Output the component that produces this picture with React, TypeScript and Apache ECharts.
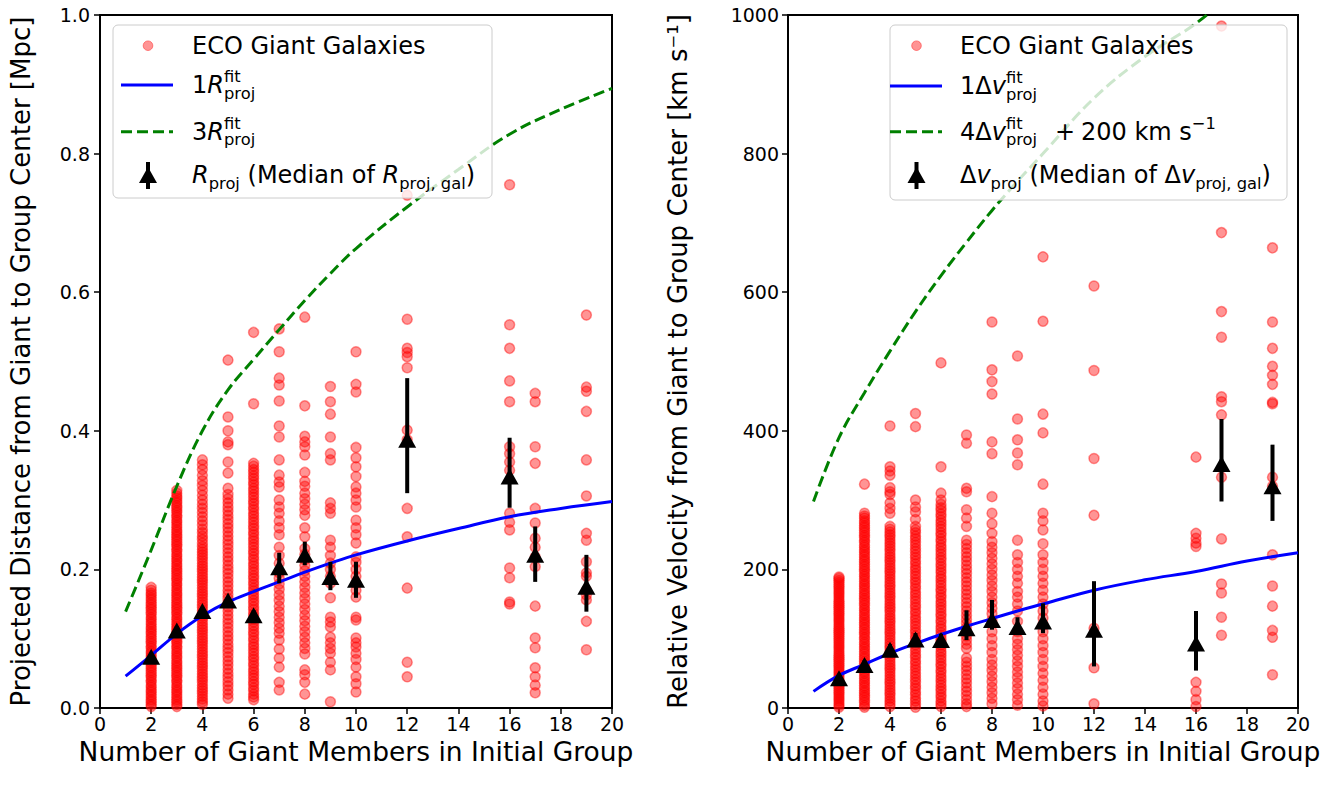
import React, { useEffect, useRef } from 'react';
import * as echarts from 'echarts';

const FONT = 'DejaVu Sans';

// ---------- Left panel: projected distance [Mpc] ----------
const L2 = [0.002,0.005,0.009,0.012,0.016,0.019,0.023,0.026,0.03,0.033,0.037,0.04,0.044,0.047,0.051,0.054,0.058,0.061,0.065,0.068,0.072,0.075,0.079,0.082,0.086,0.089,0.093,0.096,0.1,0.103,0.107,0.11,0.114,0.117,0.121,0.124,0.128,0.131,0.135,0.138,0.142,0.145,0.149,0.152,0.156,0.159,0.163,0.166,0.17,0.174];
const L3 = [0.002,0.005,0.009,0.012,0.016,0.019,0.023,0.026,0.03,0.033,0.037,0.04,0.044,0.047,0.051,0.054,0.058,0.061,0.065,0.068,0.072,0.075,0.079,0.082,0.086,0.089,0.093,0.096,0.1,0.103,0.107,0.11,0.114,0.117,0.121,0.124,0.128,0.131,0.135,0.138,0.142,0.145,0.149,0.152,0.156,0.159,0.163,0.166,0.17,0.173,0.177,0.18,0.184,0.187,0.191,0.194,0.198,0.201,0.205,0.208,0.212,0.215,0.219,0.222,0.226,0.229,0.233,0.236,0.24,0.243,0.247,0.25,0.254,0.257,0.261,0.264,0.268,0.271,0.275,0.278,0.282,0.285,0.289,0.292,0.296,0.299,0.303,0.306,0.31,0.314];
const L4 = [0.005,0.009,0.013,0.017,0.021,0.025,0.029,0.033,0.037,0.041,0.045,0.049,0.053,0.057,0.061,0.065,0.069,0.073,0.077,0.081,0.085,0.089,0.093,0.097,0.101,0.105,0.109,0.113,0.117,0.121,0.125,0.129,0.133,0.137,0.141,0.145,0.149,0.153,0.157,0.161,0.165,0.169,0.173,0.177,0.181,0.185,0.189,0.193,0.197,0.201,0.205,0.209,0.213,0.217,0.221,0.225,0.229,0.233,0.238,0.243,0.248,0.253,0.258,0.264,0.27,0.276,0.282,0.288,0.294,0.3,0.307,0.314,0.321,0.328,0.336,0.344,0.351,0.358];
const L5 = [0.502,0.42,0.40,0.384,0.38,0.355,0.339,0.317,0.308,0.302,0.296,0.29,0.284,0.278,0.272,0.266,0.26,0.254,0.248,0.242,0.236,0.23,0.224,0.218,0.212,0.206,0.2,0.194,0.188,0.182,0.176,0.17,0.164,0.158,0.152,0.146,0.14,0.134,0.128,0.122,0.116,0.11,0.104,0.098,0.092,0.086,0.08,0.074,0.068,0.062,0.056,0.05,0.044,0.038,0.032,0.026,0.02,0.014];
const L6 = [0.542,0.439,0.353,0.349,0.344,0.34,0.335,0.331,0.326,0.322,0.317,0.313,0.308,0.304,0.299,0.295,0.29,0.286,0.281,0.277,0.272,0.268,0.263,0.259,0.254,0.25,0.245,0.241,0.236,0.232,0.227,0.223,0.218,0.214,0.209,0.205,0.2,0.196,0.191,0.187,0.182,0.178,0.173,0.169,0.164,0.16,0.155,0.151,0.146,0.142,0.137,0.133,0.128,0.124,0.119,0.115,0.11,0.106,0.101,0.097,0.092,0.088,0.083,0.079,0.074,0.07,0.065,0.061,0.056,0.052,0.047,0.043,0.038,0.034,0.029,0.025,0.02,0.016,0.012];
const L7 = [0.547,0.514,0.476,0.466,0.443,0.407,0.391,0.358,0.336,0.326,0.319,0.30,0.29,0.281,0.27,0.26,0.25,0.232,0.22,0.209,0.195,0.187,0.179,0.171,0.163,0.155,0.147,0.139,0.131,0.123,0.115,0.108,0.098,0.085,0.072,0.059,0.037,0.026];
const L8 = [0.564,0.436,0.392,0.384,0.377,0.365,0.34,0.327,0.32,0.31,0.302,0.294,0.286,0.278,0.26,0.247,0.23,0.222,0.214,0.206,0.198,0.19,0.182,0.174,0.166,0.158,0.15,0.142,0.134,0.126,0.118,0.11,0.102,0.094,0.086,0.078,0.055,0.048,0.037,0.02];
const L9 = [0.464,0.442,0.424,0.391,0.367,0.358,0.296,0.288,0.281,0.242,0.232,0.22,0.209,0.2,0.19,0.18,0.159,0.131,0.124,0.117,0.102,0.094,0.086,0.079,0.066,0.055,0.009];
const L10 = [0.514,0.467,0.456,0.376,0.361,0.348,0.334,0.319,0.31,0.30,0.29,0.271,0.26,0.25,0.238,0.218,0.21,0.2,0.19,0.18,0.17,0.16,0.131,0.127,0.101,0.094,0.088,0.079,0.07,0.059,0.045,0.035,0.023];
const L12 = [0.74,0.561,0.519,0.513,0.507,0.491,0.401,0.387,0.288,0.247,0.173,0.066,0.045];
const L16 = [0.755,0.553,0.519,0.472,0.442,0.377,0.367,0.355,0.343,0.281,0.268,0.257,0.202,0.188,0.153,0.15];
const L17 = [0.454,0.442,0.377,0.353,0.288,0.267,0.245,0.232,0.218,0.204,0.147,0.101,0.087,0.058,0.045,0.033,0.022];
const L19 = [0.567,0.463,0.457,0.428,0.358,0.306,0.252,0.242,0.211,0.195,0.19,0.17,0.163,0.156,0.125,0.084];

const medX = [2, 3, 4, 5, 6, 7, 8, 9, 10, 12, 16, 17, 19];
const leftMed = [0.074, 0.112, 0.14, 0.155, 0.134, 0.203, 0.221, 0.189, 0.185, 0.387, 0.334, 0.221, 0.175];
const leftLo = [0.069, 0.106, 0.135, 0.149, 0.127, 0.18, 0.206, 0.17, 0.159, 0.31, 0.289, 0.182, 0.139];
const leftHi = [0.079, 0.118, 0.145, 0.161, 0.141, 0.224, 0.24, 0.211, 0.211, 0.476, 0.39, 0.262, 0.221];

const fitX = [1, 2, 3, 4, 5, 6, 7, 8, 9, 10, 12, 14, 16, 18, 20];
const leftFit1 = [0.046, 0.076, 0.107, 0.133, 0.153, 0.168, 0.182, 0.196, 0.209, 0.221, 0.241, 0.259, 0.276, 0.288, 0.298];
const leftFit3 = [0.139, 0.228, 0.32, 0.4, 0.459, 0.503, 0.546, 0.588, 0.627, 0.663, 0.723, 0.777, 0.828, 0.864, 0.894];

// ---------- Right panel: relative velocity [km/s] ----------
const R2 = [1,4,7,10,13,16,19,22,25,28,31,34,37,40,43,46,49,52,55,58,61,64,67,70,73,76,79,82,85,88,91,94,97,100,103,106,109,112,115,118,121,124,127,130,133,136,139,142,145,148,151,154,157,160,163,166,169,172,175,178,181,184,187,189];
const R3 = [323,281,277,274,270,267,263,260,256,253,249,246,242,239,235,232,228,225,221,218,214,211,207,204,200,197,193,190,186,183,179,176,172,169,165,162,158,155,151,148,144,141,137,134,130,127,123,120,116,113,109,106,102,99,95,92,88,85,81,78,74,71,67,64,60,57,53,50,46,43,39,36,32,29,25,22,18,15,11,8,4,1];
const R4 = [407,348,342,336,318,312,308,296,288,281,262,258,254,250,246,242,238,234,230,226,222,218,214,210,206,202,198,194,190,186,182,178,174,170,166,162,158,154,150,146,142,138,134,130,126,122,118,114,110,106,102,98,94,90,86,82,78,74,70,66,62,58,54,50,46,42,38,34,30,26,22,18,14,10,6,2];
const R5 = [425,406,300,290,283,272,262,257,253,248,244,239,235,230,226,221,217,212,208,203,199,194,190,185,181,176,172,167,163,158,154,149,145,140,136,131,127,122,118,113,109,104,100,95,91,86,82,77,73,68,64,59,55,50,46,41,37,32,28,23,19,14,10,5,1];
const R6 = [498,348,310,300,294,289,285,280,276,271,267,262,258,253,249,244,240,235,231,226,222,217,213,208,204,199,195,190,186,181,177,172,168,163,159,154,150,145,141,136,132,127,123,118,114,109,105,100,96,91,87,82,78,73,69,64,60,55,51,46,42,37,33,28,24,19,15,10,6,2];
const R7 = [394,382,317,312,286,274,262,242,236,230,224,218,212,206,200,194,188,182,176,170,164,158,152,146,140,134,128,122,116,110,104,98,92,86,72,66,60,54,48,42,36,30,24,18,12,6,2];
const R8 = [557,488,471,453,384,367,305,281,266,252,240,232,224,216,208,200,192,184,176,168,160,152,144,136,127,110,100,90,80,70,62,54,46,38,30,22,14,6];
const R9 = [508,417,387,368,351,242,221,210,200,190,180,168,160,150,140,125,110,100,92,84,76,68,60,52,44,36,28,20,12,4];
const R10 = [651,558,424,397,323,281,270,257,237,221,210,200,190,180,170,160,150,140,130,120,110,100,90,80,70,60,50,40,30,20,10,3];
const R12 = [609,487,360,278,115,58,6];
const R16 = [362,252,245,238,233,37,24,12,2];
const R17 = [984,686,572,535,449,442,423,333,244,179,166,131,105];
const R19 = [664,557,519,493,480,467,441,439,333,320,221,176,147,112,102,48];

const rightMed = [43, 62, 84, 99, 98, 115, 127, 117, 125, 113, 93, 352, 320];
const rightLo = [37, 55, 76, 90, 89, 98, 113, 105, 108, 60, 54, 298, 270];
const rightHi = [49, 69, 92, 108, 107, 141, 156, 131, 151, 183, 140, 417, 380];

const rightFit1 = [24, 47, 63, 79, 93, 106, 118, 129, 140, 150, 170, 185, 197, 212, 224];
const rightFit4 = [298, 390, 455, 515, 572, 624, 672, 718, 760, 800, 880, 940, 988, 1048, 1096];

const xTicksMax = 20;
const X_TITLE = 'Number of Giant Members in Initial Group';
const Y_TITLE_L = 'Projected Distance from Giant to Group Center [Mpc]';
const Y_TITLE_R = 'Relative Velocity from Giant to Group Center [km s\u207B\u00B9]';

const leftCols: [number, number[]][] = [[2, L2], [3, L3], [4, L4], [5, L5], [6, L6], [7, L7], [8, L8], [9, L9], [10, L10], [12, L12], [16, L16], [17, L17], [19, L19]];
const rightCols: [number, number[]][] = [[2, R2], [3, R3], [4, R4], [5, R5], [6, R6], [7, R7], [8, R8], [9, R9], [10, R10], [12, R12], [16, R16], [17, R17], [19, R19]];

const PINK = 'rgba(255,0,0,0.42)';
const LEG_FS = 24;

function measure(t: string, size: number, italic: boolean): number {
  const ctx = document.createElement('canvas').getContext('2d');
  if (!ctx) return t.length * size * 0.6;
  ctx.font = `${italic ? 'italic ' : ''}${size}px "${FONT}"`;
  return ctx.measureText(t).width;
}

type Seg = { t: string; k?: 'i' | 'sup' | 'sub'; stack?: boolean; x?: number };

function mathText(x0: number, yc: number, segs: Seg[], fs: number): any[] {
  const small = fs * 0.68;
  const els: any[] = [];
  let x = x0;
  let pending = 0;
  for (const s of segs) {
    if (s.x !== undefined) { x = s.x; pending = 0; }
    const isSmall = s.k === 'sup' || s.k === 'sub';
    const size = isSmall ? small : fs;
    const italic = s.k === 'i';
    const w = measure(s.t, size, italic);
    const y = s.k === 'sup' ? yc - 8.5 : s.k === 'sub' ? yc + 8 : yc;
    els.push({
      type: 'text',
      x,
      y,
      z: 101,
      style: {
        text: s.t,
        fontSize: size,
        fontFamily: FONT,
        fontStyle: italic ? 'italic' : 'normal',
        fill: '#000',
        verticalAlign: 'middle',
        align: 'left',
      },
    });
    if (s.stack) {
      pending = Math.max(pending, w);
    } else {
      x += Math.max(w, pending);
      pending = 0;
    }
  }
  return els;
}

function legend(box: { x: number; y: number; w: number; h: number }, mx: number, lx1: number, lx2: number, tx: number, rows: number[], labels: Seg[][]): any[] {
  const els: any[] = [];
  els.push({
    type: 'rect', z: 100,
    shape: { x: box.x, y: box.y, width: box.w, height: box.h, r: 5 },
    style: { fill: 'rgba(255,255,255,0.8)', stroke: '#cccccc', lineWidth: 1 },
  });
  els.push({ type: 'circle', z: 101, shape: { cx: mx, cy: rows[0], r: 4.8 }, style: { fill: PINK, stroke: PINK, lineWidth: 1 } });
  els.push({ type: 'line', z: 101, shape: { x1: lx1, y1: rows[1], x2: lx2, y2: rows[1] }, style: { stroke: '#0000ff', lineWidth: 3 } });
  els.push({ type: 'line', z: 101, shape: { x1: lx1, y1: rows[2], x2: lx2, y2: rows[2] }, style: { stroke: '#008000', lineWidth: 3, lineDash: [11, 5] } });
  els.push({ type: 'line', z: 101, shape: { x1: mx, y1: rows[3] - 13, x2: mx, y2: rows[3] + 14 }, style: { stroke: '#000', lineWidth: 4 } });
  els.push({ type: 'polygon', z: 102, shape: { points: [[mx, rows[3] - 8], [mx - 9, rows[3] + 8], [mx + 9, rows[3] + 8]] }, style: { fill: '#000' } });
  labels.forEach((segs, i) => {
    mathText(tx, rows[i], segs, LEG_FS).forEach((e) => els.push(e));
  });
  return els;
}

const leftLabels: Seg[][] = [
  [{ t: 'ECO Giant Galaxies' }],
  [{ t: '1' }, { t: 'R', k: 'i' }, { t: 'fit', k: 'sup', stack: true }, { t: 'proj', k: 'sub' }],
  [{ t: '3' }, { t: 'R', k: 'i' }, { t: 'fit', k: 'sup', stack: true }, { t: 'proj', k: 'sub' }],
  [{ t: 'R', k: 'i' }, { t: 'proj', k: 'sub' }, { t: ' (Median of ' }, { t: 'R', k: 'i' }, { t: 'proj, gal', k: 'sub' }, { t: ')' }],
];
const rightLabels: Seg[][] = [
  [{ t: 'ECO Giant Galaxies' }],
  [{ t: '1\u0394' }, { t: 'v', k: 'i' }, { t: 'fit', k: 'sup', stack: true }, { t: 'proj', k: 'sub' }],
  [{ t: '4\u0394' }, { t: 'v', k: 'i' }, { t: 'fit', k: 'sup', stack: true }, { t: 'proj', k: 'sub' }, { t: '+', x: 1055 }, { t: '200 km s', x: 1081 }, { t: '\u22121', k: 'sup' }],
  [{ t: '\u0394' }, { t: 'v', k: 'i' }, { t: 'proj', k: 'sub' }, { t: ' (Median of \u0394' }, { t: 'v', k: 'i' }, { t: 'proj, gal', k: 'sub' }, { t: ')' }],
];

function axisCommon() {
  return {
    type: 'value' as const,
    axisLine: { show: true, onZero: false, lineStyle: { color: '#000', width: 2 } },
    axisTick: { show: true, inside: false, length: 6, lineStyle: { color: '#000', width: 1.5 } },
    axisLabel: { color: '#000', fontSize: 19, fontFamily: FONT },
    splitLine: { show: false },
    nameLocation: 'middle' as const,
    nameTextStyle: { color: '#000', fontSize: 26, fontFamily: FONT },
  };
}

function buildOption() {
  const leftScatter = leftCols.flatMap(([n, vals]) => vals.map((v) => [n, v]));
  const rightScatter = rightCols.flatMap(([n, vals]) => vals.map((v) => [n, v]));
  const errRender = (params: any, api: any) => {
    const p1 = api.coord([api.value(0), api.value(1)]);
    const p2 = api.coord([api.value(0), api.value(2)]);
    return { type: 'line', shape: { x1: p1[0], y1: p1[1], x2: p2[0], y2: p2[1] }, style: { stroke: '#000', lineWidth: 4 } };
  };
  const scatterStyle = { color: PINK, borderColor: PINK, borderWidth: 1.5, opacity: 1 };
  const triStyle = { color: '#000', opacity: 1 };
  const xTitleStyle = { color: '#000', fontSize: 26.5, fontFamily: FONT };

  return {
    animation: false,
    backgroundColor: '#fff',
    grid: [
      { left: 100, top: 15, width: 512, height: 693, show: true, borderColor: '#000', borderWidth: 2, backgroundColor: 'transparent' },
      { left: 788, top: 15, width: 510, height: 693, show: true, borderColor: '#000', borderWidth: 2, backgroundColor: 'transparent' },
    ],
    xAxis: [
      { ...axisCommon(), gridIndex: 0, min: 0, max: xTicksMax, interval: 2, name: X_TITLE, nameGap: 22, nameTextStyle: xTitleStyle, axisLabel: { ...axisCommon().axisLabel, margin: 6 } },
      { ...axisCommon(), gridIndex: 1, min: 0, max: xTicksMax, interval: 2, name: X_TITLE, nameGap: 22, nameTextStyle: xTitleStyle, axisLabel: { ...axisCommon().axisLabel, margin: 6 } },
    ],
    yAxis: [
      { ...axisCommon(), gridIndex: 0, min: 0, max: 1, interval: 0.2, name: Y_TITLE_L, nameGap: 66, axisLabel: { ...axisCommon().axisLabel, margin: 10, formatter: (v: number) => v.toFixed(1) } },
      { ...axisCommon(), gridIndex: 1, min: 0, max: 1000, interval: 200, name: Y_TITLE_R, nameGap: 97, axisLabel: { ...axisCommon().axisLabel, margin: 9, formatter: (v: number) => String(v) } },
    ],
    series: [
      { type: 'scatter', xAxisIndex: 0, yAxisIndex: 0, data: leftScatter, symbol: 'circle', symbolSize: 10, itemStyle: scatterStyle, z: 2 },
      { type: 'line', xAxisIndex: 0, yAxisIndex: 0, data: fitX.map((x, i) => [x, leftFit1[i]]), smooth: 0.4, showSymbol: false, symbol: 'none', lineStyle: { color: '#0000ff', width: 3 }, z: 3 },
      { type: 'line', xAxisIndex: 0, yAxisIndex: 0, data: fitX.map((x, i) => [x, leftFit3[i]]), smooth: 0.4, showSymbol: false, symbol: 'none', lineStyle: { color: '#008000', width: 3, type: [11, 5] }, z: 3 },
      { type: 'custom', xAxisIndex: 0, yAxisIndex: 0, data: medX.map((x, i) => [x, leftLo[i], leftHi[i]]), renderItem: errRender, z: 4 },
      { type: 'scatter', xAxisIndex: 0, yAxisIndex: 0, data: medX.map((x, i) => [x, leftMed[i]]), symbol: 'triangle', symbolSize: [18, 16], itemStyle: triStyle, z: 5 },

      { type: 'scatter', xAxisIndex: 1, yAxisIndex: 1, data: rightScatter, symbol: 'circle', symbolSize: 10, itemStyle: scatterStyle, z: 2 },
      { type: 'line', xAxisIndex: 1, yAxisIndex: 1, data: fitX.map((x, i) => [x, rightFit1[i]]), smooth: 0.4, showSymbol: false, symbol: 'none', lineStyle: { color: '#0000ff', width: 3 }, z: 3 },
      { type: 'line', xAxisIndex: 1, yAxisIndex: 1, data: fitX.map((x, i) => [x, rightFit4[i]]), smooth: 0.4, showSymbol: false, symbol: 'none', clip: true, lineStyle: { color: '#008000', width: 3, type: [11, 5] }, z: 3 },
      { type: 'custom', xAxisIndex: 1, yAxisIndex: 1, data: medX.map((x, i) => [x, rightLo[i], rightHi[i]]), renderItem: errRender, z: 4 },
      { type: 'scatter', xAxisIndex: 1, yAxisIndex: 1, data: medX.map((x, i) => [x, rightMed[i]]), symbol: 'triangle', symbolSize: [18, 16], itemStyle: triStyle, z: 5 },
    ],
    graphic: [
      ...legend({ x: 113, y: 25, w: 379, h: 173 }, 148, 121, 173, 192, [45.7, 85, 131.7, 175], leftLabels),
      ...legend({ x: 890, y: 25, w: 397, h: 175 }, 916.5, 890, 942, 960, [45.7, 86, 131.7, 175], rightLabels),
    ],
  };
}

export default function App() {
  const ref = useRef<HTMLDivElement>(null);
  useEffect(() => {
    if (!ref.current) return;
    const chart = echarts.init(ref.current, null, { renderer: 'svg' });
    chart.setOption(buildOption() as any);
    return () => chart.dispose();
  }, []);
  return <div ref={ref} style={{ position: 'fixed', left: 0, top: 0, width: 1344, height: 792, background: '#fff' }} />;
}
